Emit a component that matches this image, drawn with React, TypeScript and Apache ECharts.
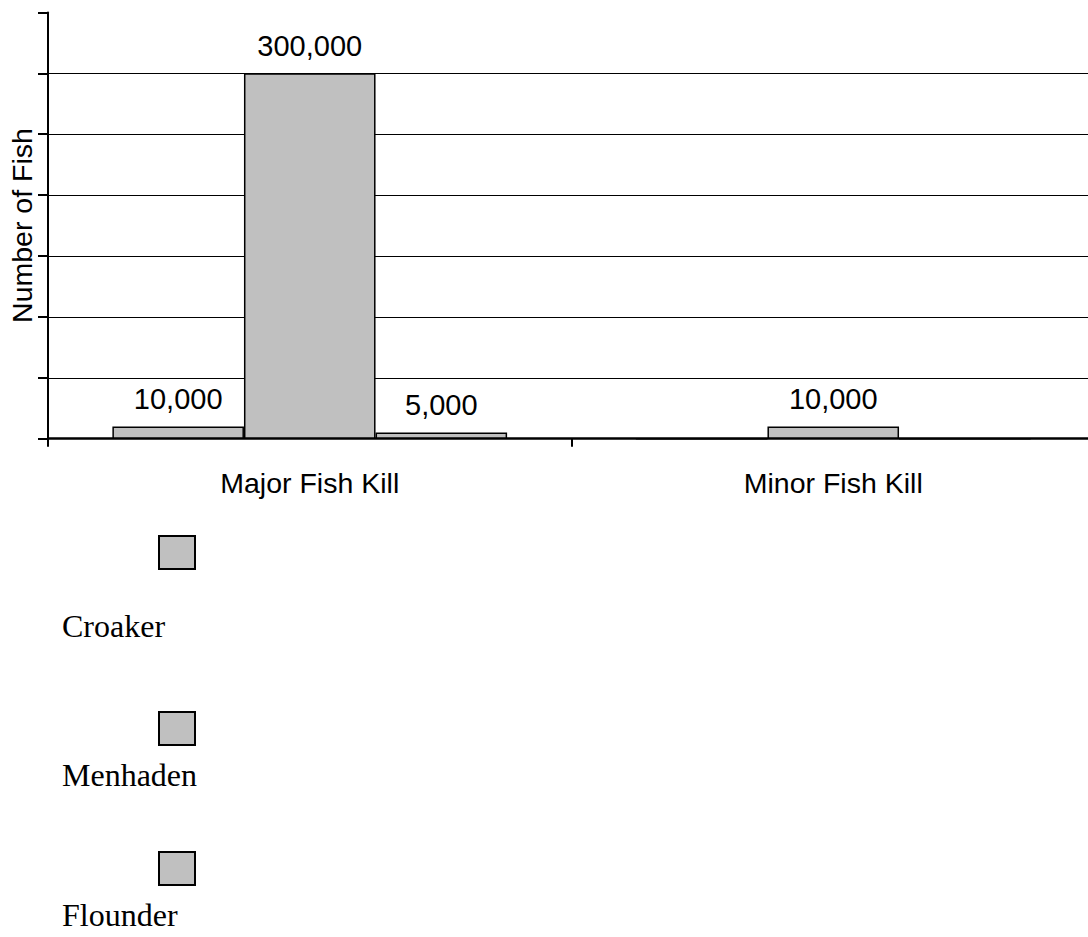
import React, { useEffect, useRef } from "react";
import * as echarts from "echarts";

// Fish kill counts by event type and species
const categories = ["Major Fish Kill", "Minor Fish Kill"];
const seriesNames = ["Croaker", "Menhaden", "Flounder"];
const croaker = [10000, 0];
const menhaden = [300000, 10000];
const flounder = [5000, 0];
const seriesValues = [croaker, menhaden, flounder];

const yMin = 0;
const yMax = 350000;
const yStep = 50000;

const SANS = "'Liberation Sans', Arial, Helvetica, sans-serif";
const SERIF = "'Liberation Serif', 'Times New Roman', serif";
const BAR_FILL = "#c0c0c0";

// Legend layout: swatch above its name, stacked down the page
const legendBoxes = [535, 711, 851];
const legendTexts = [628, 777, 917];

export default function App() {
  const ref = useRef<HTMLDivElement>(null);

  useEffect(() => {
    if (!ref.current) return;
    const chart = echarts.init(ref.current, undefined, { renderer: "svg" });

    const series = seriesNames.map((name, i) => ({
      name,
      type: "bar",
      data: seriesValues[i],
      barGap: "0%",
      barCategoryGap: "24.6%",
      itemStyle: { color: BAR_FILL, borderColor: "#000", borderWidth: 1.5 },
      label: {
        show: true,
        position: "top",
        distance: 13,
        color: "#000",
        fontFamily: SANS,
        fontSize: 29,
        formatter: (p: any) => (p.value > 0 ? Number(p.value).toLocaleString("en-US") : ""),
      },
    }));

    const legendGraphics: any[] = [];
    seriesNames.forEach((name, i) => {
      legendGraphics.push({
        type: "rect",
        left: 158,
        top: legendBoxes[i],
        shape: { width: 36, height: 33 },
        style: { fill: BAR_FILL, stroke: "#000", lineWidth: 2 },
      });
      legendGraphics.push({
        type: "text",
        left: 62,
        top: legendTexts[i] - 18,
        style: { text: name, fill: "#000", font: `32px ${SERIF}` },
      });
    });

    chart.setOption({
      animation: false,
      backgroundColor: "#fff",
      grid: {
        left: 48,
        width: 1047,
        top: 12.4,
        height: 426.3,
        containLabel: false,
        outerBoundsMode: "none",
      },
      xAxis: {
        type: "category",
        data: categories,
        axisLine: { show: true, lineStyle: { color: "#000", width: 2.5 } },
        axisTick: { show: true, length: 8, lineStyle: { color: "#000", width: 2 } },
        axisLabel: { color: "#000", fontFamily: SANS, fontSize: 28.5, margin: 30 },
        splitLine: { show: false },
      },
      yAxis: {
        type: "value",
        min: yMin,
        max: yMax,
        interval: yStep,
        name: "Number of Fish",
        nameLocation: "middle",
        nameGap: 12,
        nameTextStyle: { color: "#000", fontFamily: SANS, fontSize: 28.5 },
        axisLine: { show: true, lineStyle: { color: "#000", width: 2 } },
        axisTick: { show: true, length: 10, lineStyle: { color: "#000", width: 2 } },
        axisLabel: { show: false },
        splitLine: { show: true, showMaxLine: false, lineStyle: { color: "#000", width: 1.2 } },
      },
      series,
      graphic: legendGraphics,
    });

    return () => chart.dispose();
  }, []);

  return (
    <div
      ref={ref}
      style={{ position: "absolute", left: 0, top: 0, width: 1088, height: 937, background: "#fff" }}
    />
  );
}
